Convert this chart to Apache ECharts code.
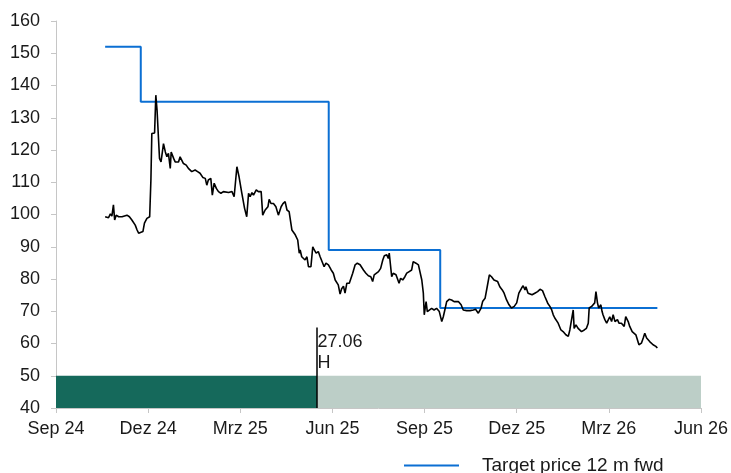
<!DOCTYPE html>
<html>
<head>
<meta charset="utf-8">
<script src="https://cdn.jsdelivr.net/npm/echarts@6/dist/echarts.min.js"></script>
<style>
html,body{margin:0;padding:0;background:#fff;}
#chart{width:731px;height:473px;}
</style>
</head>
<body>
<div id="chart"></div>
<script>
// x positions are in months since Sep 2024 (0 = Sep 24, 3 = Dez 24, ...)
var tickLabels = ['Sep 24','Dez 24','Mrz 25','Jun 25','Sep 25','Dez 25','Mrz 26','Jun 26'];

var priceT = [1.60,1.66,1.71,1.77,1.82,1.87,1.91,1.96,2.04,2.09,2.15,2.20,2.31,2.39,2.47,2.52,2.58,2.64,2.69,2.74,2.83,2.88,2.96,3.05,3.09,3.12,3.18,3.21,3.25,3.29,3.34,3.37,3.42,3.46,3.50,3.56,3.61,3.66,3.72,3.75,3.83,3.88,3.94,3.99,4.04,4.10,4.15,4.24,4.31,4.42,4.53,4.61,4.69,4.78,4.86,4.91,4.96,5.04,5.09,5.15,5.22,5.29,5.37,5.45,5.51,5.62,5.73,5.80,5.89,5.96,6.05,6.14,6.21,6.27,6.32,6.38,6.43,6.52,6.59,6.68,6.73,6.81,6.90,6.94,7.00,7.08,7.16,7.24,7.33,7.39,7.46,7.52,7.59,7.68,7.79,7.87,7.92,7.95,8.00,8.06,8.11,8.17,8.22,8.30,8.36,8.41,8.47,8.54,8.60,8.65,8.73,8.79,8.87,8.96,9.03,9.09,9.14,9.19,9.25,9.30,9.36,9.41,9.47,9.52,9.55,9.61,9.66,9.74,9.81,9.90,9.95,10.01,10.09,10.17,10.25,10.31,10.36,10.42,10.50,10.57,10.64,10.69,10.77,10.82,10.85,10.90,10.93,10.98,11.07,11.11,11.17,11.22,11.29,11.36,11.42,11.50,11.58,11.63,11.72,11.80,11.85,11.91,11.96,11.99,12.05,12.09,12.15,12.23,12.31,12.39,12.48,12.56,12.61,12.66,12.72,12.80,12.88,12.96,13.02,13.10,13.19,13.26,13.37,13.48,13.59,13.66,13.75,13.84,13.89,13.97,14.04,14.11,14.18,14.26,14.31,14.38,14.45,14.53,14.59,14.67,14.75,14.83,14.92,15.00,15.07,15.16,15.21,15.27,15.30,15.37,15.43,15.50,15.59,15.68,15.76,15.84,15.92,16.01,16.08,16.14,16.19,16.24,16.30,16.35,16.44,16.51,16.60,16.68,16.73,16.79,16.84,16.87,16.93,17.00,17.06,17.11,17.20,17.27,17.33,17.36,17.44,17.49,17.54,17.58,17.63,17.67,17.74,17.78,17.81,17.87,17.93,17.98,18.03,18.09,18.14,18.20,18.28,18.33,18.41,18.50,18.55,18.63,18.68,18.76,18.82,18.88,18.93,18.98,19.02,19.06,19.12,19.17,19.23,19.28,19.33,19.39,19.44,19.50,19.53,19.58];
var priceV = [99.3,99.8,99.0,100.2,99.5,103.0,98.3,99.8,99.3,99.8,99.3,99.8,99.8,99.3,98.3,97.8,96.7,95.2,94.2,94.7,94.7,97.3,98.8,99.3,110.7,125.1,125.3,125.3,137.0,132.4,123.0,117.4,116.3,115.8,122.0,119.4,117.9,119.0,114.3,119.4,117.4,116.3,116.9,116.3,117.9,118.4,115.8,115.3,114.3,113.3,113.8,113.3,112.8,111.5,111.2,109.1,110.7,111.2,106.0,109.7,108.1,107.1,106.6,107.1,106.8,106.8,107.1,105.5,114.8,111.7,106.6,101.9,99.3,106.6,105.5,106.8,106.0,107.6,107.1,107.1,99.8,101.4,102.4,104.7,103.4,103.4,102.4,99.8,102.4,103.4,104.0,101.4,100.9,95.2,93.7,92.1,88.0,89.0,86.9,87.5,85.9,86.9,83.8,83.8,90.0,89.0,88.0,88.5,86.9,86.9,83.8,84.9,84.4,82.8,81.8,79.7,79.2,78.2,75.3,77.0,77.8,75.6,78.7,79.2,78.7,79.2,81.8,84.4,84.9,84.4,83.8,82.8,81.8,81.0,80.7,79.2,81.3,81.8,82.3,83.3,85.9,87.2,87.5,86.4,88.0,88.0,80.7,81.8,81.3,81.8,78.7,80.2,79.7,80.7,81.8,82.3,82.8,85.4,84.9,84.4,83.8,79.7,75.6,68.9,73.0,69.9,70.4,70.9,70.4,70.9,69.9,66.8,68.3,70.4,73.0,73.7,73.5,73.0,72.5,73.0,72.0,70.4,70.2,70.2,70.4,70.6,69.4,71.0,73.0,74.0,77.6,81.3,80.7,79.7,80.2,79.2,77.6,76.6,75.6,73.5,72.0,71.0,71.5,72.6,75.6,77.2,77.9,76.6,77.6,75.6,76.1,75.1,75.6,76.1,76.8,76.4,74.5,72.5,71.5,70.4,68.9,67.9,67.9,66.3,64.2,63.7,62.7,62.2,64.2,64.7,70.4,64.7,65.8,64.7,64.2,63.7,64.2,64.7,66.3,71.0,71.5,71.0,72.6,76.1,72.6,71.0,72.0,69.9,68.9,67.4,66.3,66.8,68.3,66.8,68.9,66.8,67.4,66.3,66.3,65.3,68.3,66.8,65.3,63.7,63.7,62.7,62.2,59.6,59.1,60.1,61.7,63.2,61.7,61.1,60.6,60.6,59.6,60.1,59.1,58.6];

var targetT = [1.60, 2.76, 8.88, 12.51, 19.58];
var targetV = [152, 135, 89, 71, 71];

var ratingT = 8.50;
var ratingLabel = '27.06\nH';
var ratingTop = 65;
var barBottom = 40, barTop = 50;

var chart = echarts.init(document.getElementById('chart'));
var axisColor = '#c6c6c6';
var textColor = '#1a1a1a';
var font = 'Liberation Sans, Arial, sans-serif';

function zip(a, b) { return a.map(function (v, i) { return [v, b[i]]; }); }

chart.setOption({
  animation: false,
  grid: { left: 56, right: 30, top: 21, bottom: 65, containLabel: false },
  legend: {
    data: [{ name: 'Target price 12 m fwd', icon: 'rect' }],
    left: 399, top: 451,
    itemWidth: 55, itemHeight: 2,
    textStyle: { fontSize: 19, color: textColor, fontFamily: font, padding: [0, 0, 0, 18] }
  },
  xAxis: {
    type: 'value', min: 0, max: 21, interval: 3,
    axisLine: { show: true, lineStyle: { color: axisColor, width: 1 } },
    axisTick: { show: true, length: 5, lineStyle: { color: axisColor } },
    splitLine: { show: false },
    axisLabel: {
      fontSize: 18, color: textColor, fontFamily: font, margin: 12,
      formatter: function (v) { return tickLabels[Math.round(v / 3)] || ''; }
    }
  },
  yAxis: {
    type: 'value', min: 40, max: 160, interval: 10,
    axisLine: { show: true, lineStyle: { color: axisColor, width: 1 } },
    axisTick: { show: true, length: 5, lineStyle: { color: axisColor } },
    splitLine: { show: false },
    axisLabel: { fontSize: 18, color: textColor, fontFamily: font, margin: 16 }
  },
  series: [
    {
      name: 'Rating', type: 'scatter',
      data: [{
        value: [ratingT, ratingTop],
        label: {
          show: true, formatter: ratingLabel, position: [1, 5],
          fontSize: 18, lineHeight: 21, color: textColor, fontFamily: font, align: 'left', verticalAlign: 'top'
        }
      }],
      symbolSize: 1, itemStyle: { color: 'rgba(0,0,0,0)', opacity: 1 },
      silent: true, z: 5,
      markArea: {
        silent: true,
        data: [
          [{ coord: [0, barBottom], itemStyle: { color: '#15695b', opacity: 1 } }, { coord: [ratingT, barTop] }],
          [{ coord: [ratingT, barBottom], itemStyle: { color: '#bccec7', opacity: 1 } }, { coord: [21, barTop] }]
        ]
      },
      markLine: {
        silent: true, symbol: 'none',
        lineStyle: { color: '#000', width: 1.5, type: 'solid', opacity: 1 },
        label: { show: false },
        data: [[{ coord: [ratingT, barBottom] }, { coord: [ratingT, ratingTop] }]]
      }
    },
    {
      name: 'Price', type: 'line', data: zip(priceT, priceV),
      showSymbol: false, symbol: 'none',
      lineStyle: { color: '#000', width: 1.6 }, z: 3
    },
    {
      name: 'Target price 12 m fwd', type: 'line', data: zip(targetT, targetV),
      step: 'end', showSymbol: false, symbol: 'none',
      itemStyle: { color: '#0b6fd3' },
      lineStyle: { color: '#0b6fd3', width: 2 }, z: 2
    }
  ]
});
</script>
</body>
</html>
